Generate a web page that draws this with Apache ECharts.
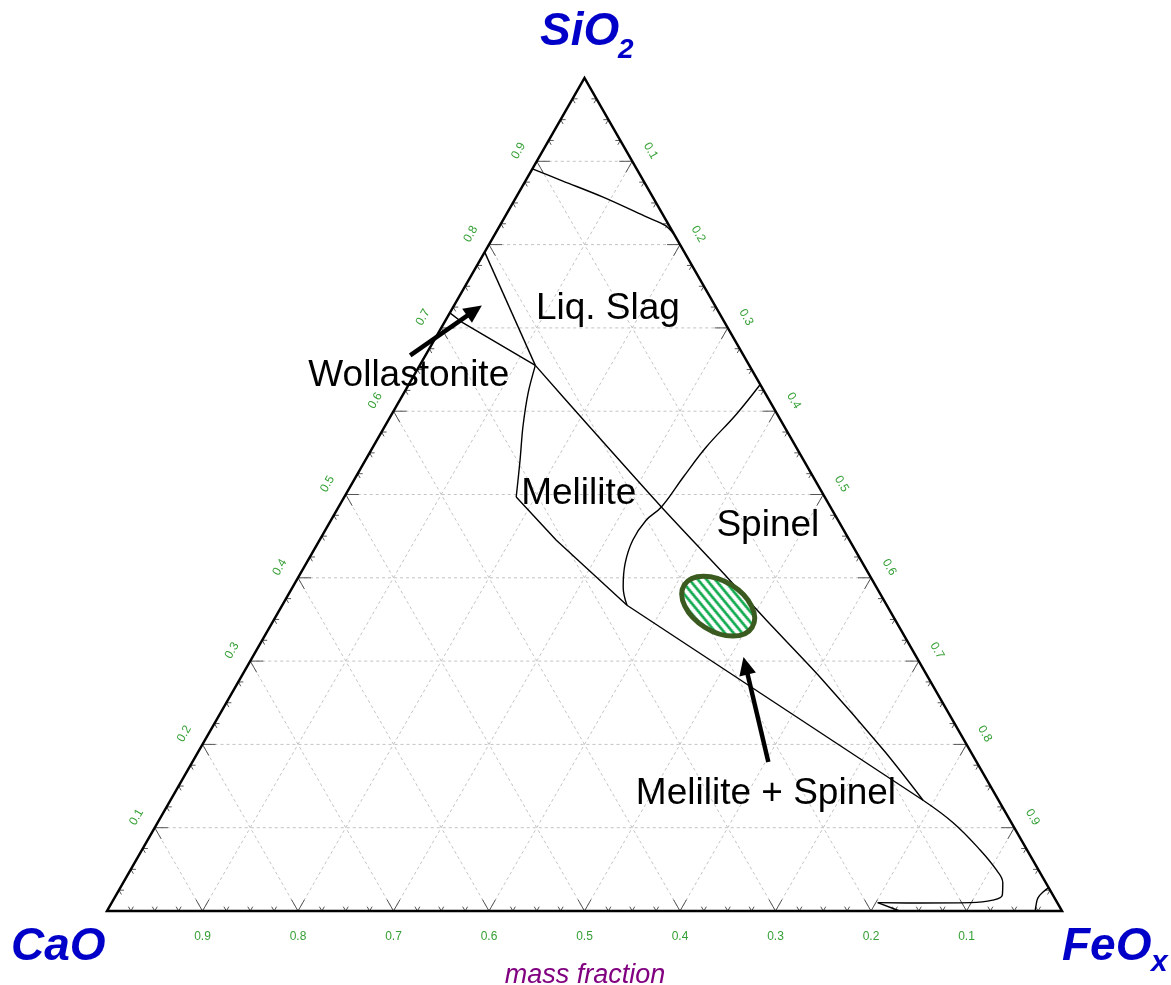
<!DOCTYPE html>
<html>
<head>
<meta charset="utf-8">
<title>CaO–SiO2–FeOx phase diagram</title>
<script src="https://cdn.jsdelivr.net/npm/echarts@6/dist/echarts.min.js"></script>
<style>
  html, body { margin: 0; padding: 0; background: #ffffff; }
  #chart { width: 1171px; height: 985px; }
</style>
</head>
<body>
<div id="chart"></div>
<script>
// All compositions are [FeOx, SiO2] mass fractions; CaO is the remainder.
const tickValues   = [0.1, 0.2, 0.3, 0.4, 0.5, 0.6, 0.7, 0.8, 0.9];
const bottomLabels = ['0.9', '0.8', '0.7', '0.6', '0.5', '0.4', '0.3', '0.2', '0.1']; // at FeOx = tickValues
const leftLabels   = ['0.1', '0.2', '0.3', '0.4', '0.5', '0.6', '0.7', '0.8', '0.9']; // at SiO2 = tickValues
const rightLabels  = ['0.9', '0.8', '0.7', '0.6', '0.5', '0.4', '0.3', '0.2', '0.1']; // at SiO2 = tickValues

// Phase boundaries
const liquidusSilica = [[0.000, 0.891], [0.040, 0.876], [0.091, 0.857], [0.149, 0.833], [0.173, 0.823], [0.188, 0.812]];
const wollastoniteLiquid = [[0.000, 0.791], [0.121, 0.655]];
const wollastoniteMelilite = [[0.000, 0.718], [0.018, 0.707], [0.121, 0.655]];
const liquidDiagonal = [[0.121, 0.655], [0.215, 0.581], [0.338, 0.485], [0.442, 0.406], [0.516, 0.349], [0.606, 0.281], [0.718, 0.192], [0.788, 0.133]];
const meliliteLeft = [[0.121, 0.655], [0.130, 0.622], [0.145, 0.581], [0.162, 0.541], [0.180, 0.497]];
const meliliteLower = [[0.180, 0.497], [0.248, 0.445], [0.361, 0.367]];
const spinelBoundary = [[0.368, 0.632], [0.361, 0.597], [0.349, 0.557], [0.343, 0.521], [0.338, 0.485], [0.330, 0.469], [0.328, 0.445], [0.334, 0.417], [0.346, 0.389], [0.361, 0.367]];
const meliliteSpinelLower = [[0.361, 0.367], [0.788, 0.133]];
const ironRichLoop = [[0.788, 0.133], [0.833, 0.106], [0.878, 0.073], [0.907, 0.049], [0.921, 0.034], [0.928, 0.019], [0.921, 0.013], [0.899, 0.010], [0.847, 0.0096], [0.802, 0.010]];
const ironRichTail = [[0.802, 0.010], [0.830, 0.000]];
const feoxCorner = [[0.972, 0.000], [0.969, 0.008], [0.967, 0.016], [0.969, 0.023], [0.972, 0.028]];

// Region names and where they sit
const regionNames = ['Liq. Slag', 'Wollastonite', 'Melilite', 'Spinel', 'Melilite + Spinel'];
const regionAt = [[0.161, 0.727], [-0.007, 0.646], [0.242, 0.504], [0.459, 0.466], [0.618, 0.144]];

// Pointer arrows (tail -> tip)
const arrowTails = [[-0.016, 0.667], [0.603, 0.179]];
const arrowTips  = [[0.029, 0.727], [0.514, 0.305]];

// Hatched composition window
const windowCenter = [0.457, 0.366];

const FONT = '"Liberation Sans", Arial, Helvetica, sans-serif';
const BLUE = '#0000c8';
const TICK_GREEN = '#36a036';

// ternary -> cartesian (x along CaO->FeOx, y = SiO2)
const X = p => [p[0] + p[1] / 2, p[1]];
const unit = (p, q) => { const dx = q[0] - p[0], dy = q[1] - p[1], l = Math.hypot(dx, dy); return [dx / l, dy / l]; };
const line = (p, q, style) => ({ type: 'line', shape: { x1: p[0], y1: p[1], x2: q[0], y2: q[1] }, style: Object.assign({}, style) });

function vertices(api) {
  return { A: api.coord(X([0, 0])), C: api.coord(X([1, 0])), B: api.coord(X([0, 1])) };
}

function renderGrid(params, api) {
  const kids = [];
  const st = { stroke: '#c4c4c4', lineWidth: 1, lineDash: [3, 3] };
  tickValues.forEach(v => {
    [[[0, v], [1 - v, v]], [[v, 0], [v, 1 - v]], [[1 - v, 0], [0, 1 - v]]].forEach(([p, q]) => {
      kids.push(line(api.coord(X(p)), api.coord(X(q)), st));
    });
  });
  return { type: 'group', children: kids };
}

function renderTicks(params, api) {
  const { A, B, C } = vertices(api);
  const upRight = unit(A, B), upLeft = unit(C, B), downRight = unit(B, C), downLeft = unit(B, A);
  const kids = [];
  const st = { stroke: '#555', lineWidth: 1 };
  for (let k = 1; k < 40; k++) {
    const t = k / 40;
    const len = (k % 4 === 0) ? 13 : 5;
    const pb = api.coord(X([t, 0]));
    const pl = api.coord(X([0, t]));
    const pr = api.coord(X([1 - t, t]));
    const add = (p, d) => kids.push(line(p, [p[0] + d[0] * len, p[1] + d[1] * len], st));
    add(pb, upRight); add(pb, upLeft);
    add(pl, [1, 0]); add(pl, downRight);
    add(pr, [-1, 0]); add(pr, downLeft);
  }
  const txt = (p, s, rot) => ({
    type: 'text', x: p[0], y: p[1], rotation: rot,
    style: { text: s, fill: TICK_GREEN, fontSize: 12, fontFamily: FONT, align: 'center', verticalAlign: 'middle' }
  });
  tickValues.forEach((v, i) => {
    const pb = api.coord(X([v, 0]));
    kids.push(txt([pb[0], pb[1] + 26], bottomLabels[i], 0));
    const pl = api.coord(X([0, v]));
    kids.push(txt([pl[0] - 21 * 0.866, pl[1] - 21 * 0.5], leftLabels[i], Math.PI / 3));
    const pr = api.coord(X([1 - v, v]));
    kids.push(txt([pr[0] + 21 * 0.866, pr[1] - 21 * 0.5], rightLabels[i], -Math.PI / 3));
  });
  return { type: 'group', children: kids };
}

function renderFrame(params, api) {
  const { A, B, C } = vertices(api);
  return {
    type: 'polygon',
    shape: { points: [A, C, B] },
    style: { fill: 'none', stroke: '#000', lineWidth: 2.5, lineJoin: 'miter' }
  };
}

// stripe tile for the hatched window (stripes laid out in the ellipse's own frame)
function makeHatch() {
  const P = 21, T = 8.5, cv = document.createElement('canvas');
  cv.width = P; cv.height = P;
  const ctx = cv.getContext('2d');
  const img = ctx.createImageData(P, P);
  const g = [16, 170, 78];
  for (let y = 0; y < P; y++) {
    for (let x = 0; x < P; x++) {
      let hit = 0;
      for (let sy = 0; sy < 4; sy++) for (let sx = 0; sx < 4; sx++) {
        const f = (x + (sx + 0.5) / 4) - 3 * (y + (sy + 0.5) / 4);
        const m = ((f % P) + P) % P;
        if (m < T) hit++;
      }
      const a = hit / 16, i = (y * P + x) * 4;
      img.data[i] = Math.round(255 * (1 - a) + g[0] * a);
      img.data[i + 1] = Math.round(255 * (1 - a) + g[1] * a);
      img.data[i + 2] = Math.round(255 * (1 - a) + g[2] * a);
      img.data[i + 3] = 255;
    }
  }
  ctx.putImageData(img, 0, 0);
  return cv;
}
const hatchTile = makeHatch();

function renderWindow(params, api) {
  const c = api.coord(X(windowCenter));
  return {
    type: 'ellipse',
    x: c[0], y: c[1],
    rotation: -32 * Math.PI / 180,
    shape: { cx: 0, cy: 0, rx: 40, ry: 25 },
    style: { fill: { image: hatchTile, repeat: 'repeat' }, stroke: '#3b5a1f', lineWidth: 5 }
  };
}

function renderArrows(params, api) {
  const kids = [];
  arrowTails.forEach((tail, i) => {
    const t = api.coord(X(tail)), h = api.coord(X(arrowTips[i]));
    const u = unit(t, h), n = [-u[1], u[0]];
    const hl = 18, hw = 8.5;
    const base = [h[0] - u[0] * hl, h[1] - u[1] * hl];
    kids.push(line(t, [base[0] + u[0] * 2, base[1] + u[1] * 2], { stroke: '#000', lineWidth: 4.5 }));
    kids.push({
      type: 'polygon',
      shape: { points: [h, [base[0] + n[0] * hw, base[1] + n[1] * hw], [base[0] - n[0] * hw, base[1] - n[1] * hw]] },
      style: { fill: '#000' }
    });
  });
  return { type: 'group', children: kids };
}

function renderRegions(params, api) {
  return {
    type: 'group',
    children: regionNames.map((name, i) => {
      const p = api.coord(X(regionAt[i]));
      return {
        type: 'text', x: p[0], y: p[1] + 3,
        style: { text: name, fill: '#000', fontSize: 37, fontFamily: FONT, align: 'center', verticalAlign: 'middle' }
      };
    })
  };
}

const boundaryStyle = { color: '#000', width: 1.4 };
const boundary = (name, pts, smooth) => ({
  name, type: 'line', data: pts.map(X), symbol: 'none', smooth: smooth || false,
  lineStyle: boundaryStyle, silent: true, z: 4, animation: false
});
const custom = (name, renderItem, z) => ({
  name, type: 'custom', data: [[0.5, 0.5]], renderItem, z, silent: true, animation: false
});

const chart = echarts.init(document.getElementById('chart'), null, { renderer: 'canvas' });
chart.setOption({
  animation: false,
  backgroundColor: '#ffffff',
  grid: { left: 107, top: 78, width: 955, height: 833, containLabel: false },
  xAxis: { type: 'value', min: 0, max: 1, show: false },
  yAxis: { type: 'value', min: 0, max: 1, show: false },
  series: [
    custom('grid', renderGrid, 1),
    custom('ticks', renderTicks, 2),
    boundary('liquidus silica', liquidusSilica, 0.3),
    boundary('wollastonite / liquid', wollastoniteLiquid),
    boundary('wollastonite / melilite', wollastoniteMelilite),
    boundary('liquid diagonal', liquidDiagonal, 0.25),
    boundary('melilite left', meliliteLeft, 0.3),
    boundary('melilite lower', meliliteLower),
    boundary('spinel boundary', spinelBoundary, 0.4),
    boundary('melilite + spinel lower', meliliteSpinelLower),
    boundary('iron-rich loop', ironRichLoop, 0.4),
    boundary('iron-rich tail', ironRichTail),
    boundary('FeOx corner', feoxCorner, 0.5),
    custom('frame', renderFrame, 6),
    custom('window', renderWindow, 7),
    custom('arrows', renderArrows, 8),
    custom('regions', renderRegions, 9)
  ],
  graphic: [
    { type: 'text', x: 540, y: 32, style: { text: 'SiO', fill: BLUE, fontSize: 46, fontWeight: 'bold', fontStyle: 'italic', fontFamily: FONT, verticalAlign: 'middle' } },
    { type: 'text', x: 618, y: 50, style: { text: '2', fill: BLUE, fontSize: 28, fontWeight: 'bold', fontStyle: 'italic', fontFamily: FONT, verticalAlign: 'middle' } },
    { type: 'text', x: 11, y: 947, style: { text: 'CaO', fill: BLUE, fontSize: 46, fontWeight: 'bold', fontStyle: 'italic', fontFamily: FONT, verticalAlign: 'middle' } },
    { type: 'text', x: 1062, y: 947, style: { text: 'FeO', fill: BLUE, fontSize: 46, fontWeight: 'bold', fontStyle: 'italic', fontFamily: FONT, verticalAlign: 'middle' } },
    { type: 'text', x: 1151, y: 963, style: { text: 'x', fill: BLUE, fontSize: 30, fontWeight: 'bold', fontStyle: 'italic', fontFamily: FONT, verticalAlign: 'middle' } },
    { type: 'text', x: 585, y: 975, style: { text: 'mass fraction', fill: '#800080', fontSize: 27, fontStyle: 'italic', fontFamily: FONT, align: 'center', verticalAlign: 'middle' } }
  ]
});
</script>
</body>
</html>
